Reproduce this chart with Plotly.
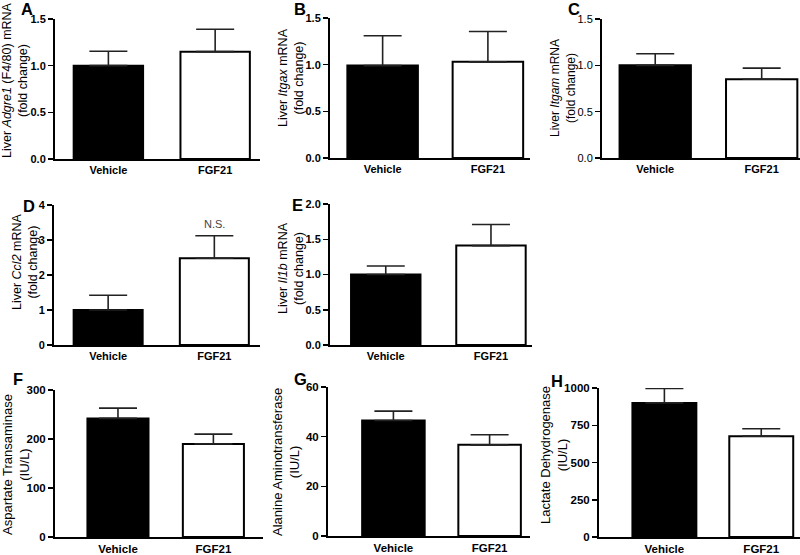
import plotly.graph_objects as go

W, H = 800, 555

groups = ["Vehicle", "FGF21"]
panel_letters = ["A", "B", "C", "D", "E", "F", "G", "H"]

# means and SEM (upward error)
adgre1_mean = [1.00, 1.15]
adgre1_sem = [0.155, 0.24]
itgax_mean = [0.99, 1.03]
itgax_sem = [0.32, 0.325]
itgam_mean = [1.00, 0.85]
itgam_sem = [0.125, 0.12]
ccl2_mean = [1.00, 2.48]
ccl2_sem = [0.42, 0.64]
il1b_mean = [1.00, 1.41]
il1b_sem = [0.12, 0.30]
ast_mean = [242, 190]
ast_sem = [21, 20]
alt_mean = [46.5, 36.7]
alt_sem = [3.8, 4.1]
ldh_mean = [900, 677]
ldh_sem = [97, 50]

y_titles = [
    "Liver <i>Adgre1</i> (F4/80) mRNA<br>(fold change)",
    "Liver <i>Itgax</i> mRNA<br>(fold change)",
    "Liver <i>Itgam</i> mRNA<br>(fold change)",
    "Liver <i>Ccl2</i> mRNA<br>(fold change)",
    "Liver <i>Il1b</i> mRNA<br>(fold change)",
    "Aspartate Transaminase<br>(IU/L)",
    "Alanine Aminotransferase<br>(IU/L)",
    "Lactate Dehydrogenase<br>(IU/L)",
]
y_max = [1.5, 1.5, 1.5, 4, 2.0, 300, 60, 1000]
y_dtick = [0.5, 0.5, 0.5, 1, 0.5, 100, 20, 250]
y_fmt = [".1f", ".1f", ".1f", "d", ".1f", "d", "d", "d"]

means = [adgre1_mean, itgax_mean, itgam_mean, ccl2_mean, il1b_mean, ast_mean, alt_mean, ldh_mean]
sems = [adgre1_sem, itgax_sem, itgam_sem, ccl2_sem, il1b_sem, ast_sem, alt_sem, ldh_sem]

# layout (pixel boxes of each plot area: x0, x1, ytop, ybottom)
boxes = [
    (55, 260, 19, 159),
    (330, 530, 18, 158),
    (602, 800, 19, 158),
    (54, 260, 205, 345),
    (330, 532, 204, 345),
    (55, 263, 390, 537),
    (328, 530, 387, 536),
    (599, 800, 388, 537),
]
x_ranges = [
    (-0.5, 1.42), (-0.5, 1.40), (-0.5, 1.36), (-0.51, 1.43),
    (-0.53, 1.39), (-0.66, 1.52), (-0.68, 1.42), (-0.675, 1.40),
]
bar_widths = [0.65, 0.67, 0.67, 0.65, 0.66, 0.64, 0.65, 0.66]
title_pos = [(15, 80), (291, 78), (563, 88), (25, 262), (291, 268),
             (16, 465), (286, 462), (554, 455)]
title_size = [12.5, 12.5, 12, 12.5, 12.5, 13, 13, 13]
letter_pos = [(27, 9), (300, 9), (574, 9), (29, 206), (297, 205),
              (18, 379), (300, 379), (557, 381)]
tick_size = [11, 11, 11, 11, 11, 11.5, 11.5, 11.5]

FONT = "Liberation Sans, Arial, sans-serif"

fig = go.Figure()
annotations = []
for i in range(8):
    n = "" if i == 0 else str(i + 1)
    x0, x1, yt, yb = boxes[i]
    fig.add_trace(go.Bar(
        x=groups, y=means[i],
        marker=dict(color=["black", "white"], line=dict(color="black", width=2)),
        width=bar_widths[i],
        error_y=dict(type="data", array=sems[i], arrayminus=[0, 0], symmetric=False,
                     color="#222222", thickness=1.6, width=19),
        xaxis="x" + n, yaxis="y" + n, showlegend=False, hoverinfo="skip",
    ))
    fig.layout["xaxis" + n] = dict(
        domain=[x0 / W, x1 / W], anchor="y" + n, type="category",
        range=list(x_ranges[i]), showline=True, linecolor="black", linewidth=2,
        showgrid=False, zeroline=False, ticks="",
        tickfont=dict(family=FONT, size=tick_size[i], color="black", weight="bold"),
    )
    fig.layout["yaxis" + n] = dict(
        domain=[1 - yb / H, 1 - yt / H], anchor="x" + n,
        range=[0, y_max[i]], dtick=y_dtick[i], tickformat=y_fmt[i],
        showline=True, linecolor="black", linewidth=2,
        ticks="outside", ticklen=5, tickwidth=1.5, tickcolor="black",
        showgrid=False, zeroline=False,
        tickfont=dict(family=FONT, size=tick_size[i], color="black",
                      weight="normal" if i == 2 else "bold"),
    )
    tx, ty = title_pos[i]
    annotations.append(dict(
        text=y_titles[i], xref="paper", yref="paper", x=tx / W, y=1 - ty / H,
        xanchor="center", yanchor="middle", textangle=-90, showarrow=False,
        font=dict(family=FONT, size=title_size[i], color="black"),
    ))
    lx, ly = letter_pos[i]
    annotations.append(dict(
        text="<b>" + panel_letters[i] + "</b>", xref="paper", yref="paper",
        x=lx / W, y=1 - ly / H, xanchor="center", yanchor="middle", showarrow=False,
        font=dict(family=FONT, size=16.5, color="black"),
    ))

annotations.append(dict(
    text="N.S.", xref="x4", yref="y4", x="FGF21",
    y=ccl2_mean[1] + ccl2_sem[1], yanchor="bottom", yshift=4, showarrow=False,
    font=dict(family=FONT, size=11, color="#444444"),
))

fig.update_layout(
    width=W, height=H, margin=dict(l=0, r=0, t=0, b=0, autoexpand=False),
    paper_bgcolor="white", plot_bgcolor="white",
    annotations=annotations, bargap=0,
)
fig.write_html(
    "out.html",
    config={"displayModeBar": False, "staticPlot": True},
    post_script="document.body.style.margin='0';document.body.style.padding='0';"
                "document.documentElement.style.overflow='hidden';",
)
